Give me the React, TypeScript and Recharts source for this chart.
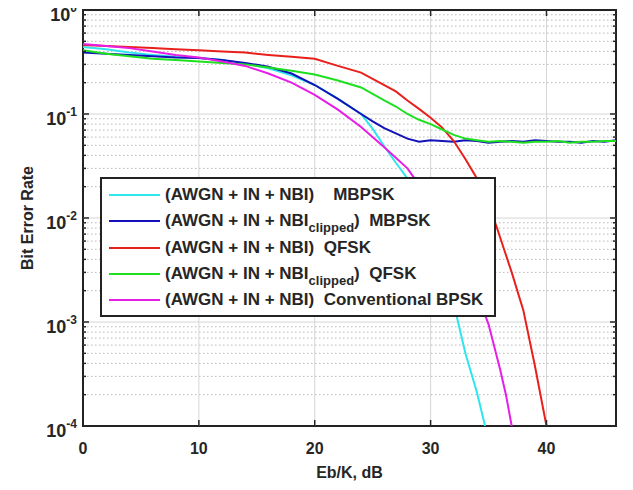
import { LineChart, Line, XAxis, YAxis, ReferenceLine, ReferenceArea, Legend } from 'recharts'

const FONT = '"Liberation Sans", Arial, sans-serif'
const INK = '#262626'

// chart geometry (page is 633x490; wrapper cancels the body margin)
const W = 633
const H = 490
const M = { top: 10, right: 17, bottom: 0, left: 8 }
const Y_AXIS_W = 75
const X_AXIS_H = 64
const PLOT_W = W - M.left - M.right - Y_AXIS_W
const PLOT_H = H - M.top - M.bottom - X_AXIS_H
const TICK_GAP = 6

// axes
const X_TICKS = [0, 10, 20, 30, 40]
const X_DOMAIN = [0, 46]
const Y_MAJOR = [1e-4, 1e-3, 1e-2, 1e-1, 1]
const Y_EXPONENTS = ['-4', '-3', '-2', '-1', '0']
const Y_MINOR = [1e-4, 1e-3, 1e-2, 1e-1].flatMap((d) => [2, 3, 4, 5, 6, 7, 8, 9].map((k) => k * d))

// series: Eb/K (dB) and bit error rate
const mbpskX = [0, 2, 4, 6, 8, 10, 12, 14, 16, 18, 20, 22, 24, 25, 26, 27, 28, 29, 30, 31, 32, 33, 34, 34.7]
const mbpskY = [0.44, 0.42, 0.39, 0.37, 0.355, 0.345, 0.33, 0.305, 0.275, 0.235, 0.19, 0.14, 0.1, 0.072, 0.049, 0.034, 0.024, 0.015, 0.008, 0.0037, 0.0015, 0.0005, 0.00021, 0.0001]

const mbpskClipX = [0, 2, 4, 6, 8, 10, 12, 14, 16, 18, 20, 22, 24, 25, 26, 27, 28, 29, 30, 31, 32, 33, 34, 35, 36, 37, 38, 39, 40, 41, 42, 43, 44, 45, 46]
const mbpskClipY = [0.39, 0.38, 0.37, 0.36, 0.35, 0.345, 0.33, 0.31, 0.285, 0.245, 0.19, 0.14, 0.1, 0.085, 0.073, 0.065, 0.058, 0.054, 0.056, 0.055, 0.054, 0.056, 0.055, 0.053, 0.054, 0.055, 0.054, 0.056, 0.055, 0.054, 0.054, 0.053, 0.055, 0.054, 0.056]

const qfskX = [0, 2, 4, 6, 8, 10, 12, 14, 16, 18, 20, 22, 24, 26, 27, 28, 29, 30, 31, 32, 33, 34, 35, 35.7, 36, 37, 38, 39, 40]
const qfskY = [0.46, 0.45, 0.44, 0.43, 0.42, 0.41, 0.4, 0.39, 0.37, 0.355, 0.34, 0.29, 0.25, 0.19, 0.165, 0.135, 0.112, 0.092, 0.074, 0.055, 0.037, 0.024, 0.013, 0.0082, 0.0065, 0.003, 0.0013, 0.00038, 0.0001]

const qfskClipX = [0, 2, 4, 6, 8, 10, 12, 14, 16, 18, 20, 22, 24, 26, 27, 28, 29, 30, 31, 32, 33, 34, 35, 36, 37, 38, 39, 40, 41, 42, 43, 44, 45, 46]
const qfskClipY = [0.41, 0.38, 0.36, 0.34, 0.33, 0.32, 0.31, 0.3, 0.28, 0.26, 0.24, 0.21, 0.18, 0.135, 0.118, 0.1, 0.088, 0.08, 0.071, 0.063, 0.058, 0.056, 0.054, 0.055, 0.054, 0.053, 0.054, 0.054, 0.055, 0.053, 0.054, 0.054, 0.055, 0.055]

const bpskX = [0, 2, 4, 6, 8, 10, 12, 14, 16, 18, 20, 22, 24, 26, 28, 28.5, 29, 30, 31, 32, 33, 34, 35, 36, 36.5, 37]
const bpskY = [0.47, 0.45, 0.43, 0.4, 0.37, 0.35, 0.32, 0.29, 0.245, 0.2, 0.153, 0.11, 0.075, 0.048, 0.03, 0.025, 0.021, 0.014, 0.009, 0.0055, 0.0033, 0.0019, 0.00095, 0.00035, 0.0002, 0.0001]

const toPoints = (xs: number[], ys: number[]) => xs.map((x, i) => ({ x, y: ys[i] }))

const SERIES = [
  { key: 'mbpsk', color: '#2ee6ee', data: toPoints(mbpskX, mbpskY), label: ['(AWGN + IN + NBI)', '', '    MBPSK'] },
  { key: 'mbpskClip', color: '#1212b8', data: toPoints(mbpskClipX, mbpskClipY), label: ['(AWGN + IN + NBI', 'clipped', ')  MBPSK'] },
  { key: 'qfsk', color: '#e8201c', data: toPoints(qfskX, qfskY), label: ['(AWGN + IN + NBI)', '', '  QFSK'] },
  { key: 'qfskClip', color: '#1ee01e', data: toPoints(qfskClipX, qfskClipY), label: ['(AWGN + IN + NBI', 'clipped', ')  QFSK'] },
  { key: 'bpsk', color: '#e61ee6', data: toPoints(bpskX, bpskY), label: ['(AWGN + IN + NBI)', '', '  Conventional BPSK'] },
]

function YTick(props: any) {
  const { x, y, payload } = props
  const axisX = x + TICK_GAP
  const idx = Y_MAJOR.findIndex((v) => Math.abs(v - payload.value) < v * 1e-6)
  const len = idx >= 0 ? 6 : 3
  return (
    <g>
      <line x1={axisX} x2={axisX + len} y1={y} y2={y} stroke={INK} strokeWidth={1.5} />
      <line x1={axisX + PLOT_W - len} x2={axisX + PLOT_W} y1={y} y2={y} stroke={INK} strokeWidth={1.5} />
      {idx >= 0 && (
        <text x={x} y={y + 11} textAnchor="end" fill={INK} fontFamily={FONT} fontWeight="bold" fontSize={18}>
          <tspan>10</tspan>
          <tspan dy={-9} fontSize={12}>{Y_EXPONENTS[idx]}</tspan>
        </text>
      )}
    </g>
  )
}

function XTick(props: any) {
  const { x, y, payload } = props
  const axisY = y - TICK_GAP
  return (
    <g>
      <line x1={x} x2={x} y1={axisY} y2={axisY - 6} stroke={INK} strokeWidth={1.5} />
      <line x1={x} x2={x} y1={axisY - PLOT_H} y2={axisY - PLOT_H + 6} stroke={INK} strokeWidth={1.5} />
      <text x={x} y={y + 22} textAnchor="middle" fill={INK} fontFamily={FONT} fontWeight="bold" fontSize={16}>
        {payload.value}
      </text>
    </g>
  )
}

function LegendBox() {
  return (
    <div
      style={{
        width: 392,
        height: 133,
        border: '2px solid #222',
        background: '#fff',
        boxSizing: 'content-box',
        paddingTop: 3,
        fontFamily: FONT,
        fontWeight: 'bold',
        fontSize: 17,
        color: INK,
      }}
    >
      {SERIES.map((s) => (
        <div key={s.key} style={{ display: 'flex', alignItems: 'center', height: 26.3, whiteSpace: 'pre' }}>
          <span style={{ display: 'inline-block', width: 51, height: 2, background: s.color, marginLeft: 7, marginRight: 5 }} />
          <span>
            {s.label[0]}
            {s.label[1] && <span style={{ fontSize: 13, position: 'relative', top: 6 }}>{s.label[1]}</span>}
            {s.label[2]}
          </span>
        </div>
      ))}
    </div>
  )
}

function YLabel(props: any) {
  const { viewBox } = props
  const cx = viewBox.x + 19
  const cy = viewBox.y + viewBox.height / 2
  return (
    <text x={cx} y={cy} transform={`rotate(-90 ${cx} ${cy})`} textAnchor="middle" dominantBaseline="central" fill={INK} fontFamily={FONT} fontWeight="bold" fontSize={16}>
      Bit Error Rate
    </text>
  )
}

function XLabel(props: any) {
  const { viewBox } = props
  const cx = viewBox.x + viewBox.width / 2
  const cy = viewBox.y + 46
  return (
    <text x={cx} y={cy} textAnchor="middle" dominantBaseline="central" fill={INK} fontFamily={FONT} fontWeight="bold" fontSize={16}>
      Eb/K, dB
    </text>
  )
}

export default function App() {
  return (
    <div style={{ width: W, height: H, margin: '-8px 0 0 -8px', background: '#fff' }}>
      <LineChart width={W} height={H} margin={M} style={{ overflow: 'visible' }}>
        <XAxis
          type="number"
          dataKey="x"
          domain={X_DOMAIN}
          ticks={X_TICKS}
          interval={0}
          height={X_AXIS_H}
          tickSize={0}
          tickMargin={TICK_GAP}
          axisLine={false}
          tick={<XTick />}
          label={<XLabel />}
          allowDataOverflow
        />
        <YAxis
          type="number"
          scale="log"
          domain={[1e-4, 1]}
          ticks={[...Y_MAJOR, ...Y_MINOR]}
          interval={0}
          width={Y_AXIS_W}
          tickSize={0}
          tickMargin={TICK_GAP}
          axisLine={false}
          tick={<YTick />}
          label={<YLabel />}
          allowDataOverflow
        />
        {Y_MINOR.map((v) => (
          <ReferenceLine key={`m${v}`} y={v} stroke="#b8b8b8" strokeDasharray="1.5 2.5" />
        ))}
        {Y_MAJOR.slice(1, 4).map((v) => (
          <ReferenceLine key={`y${v}`} y={v} stroke="#d6d6d6" />
        ))}
        {X_TICKS.slice(1).map((v) => (
          <ReferenceLine key={`x${v}`} x={v} stroke="#d6d6d6" />
        ))}
        {SERIES.map((s) => (
          <Line
            key={s.key}
            data={s.data}
            dataKey="y"
            name={s.key}
            type="linear"
            stroke={s.color}
            strokeWidth={2}
            dot={false}
            isAnimationActive={false}
          />
        ))}
        <ReferenceArea x1={0} x2={46} y1={1e-4} y2={1} fill="none" stroke="#222" strokeWidth={2} />
        <Legend
          layout="vertical"
          align="center"
          verticalAlign="middle"
          content={<LegendBox />}
          wrapperStyle={{ left: 100, top: 177, width: 396, height: 137 }}
        />
      </LineChart>
    </div>
  )
}
